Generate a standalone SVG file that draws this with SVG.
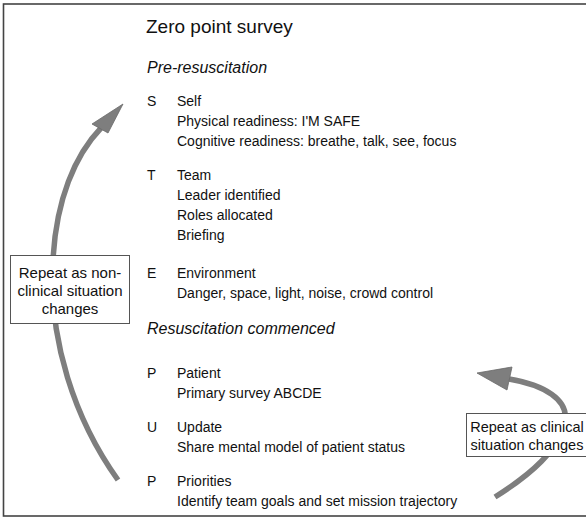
<svg xmlns="http://www.w3.org/2000/svg" width="586" height="520" viewBox="0 0 586 520">
<style>
.t{font-family:"Liberation Sans",Arial,sans-serif;font-size:14px;fill:#111}
.h{font-family:"Liberation Sans",Arial,sans-serif;font-size:19px;fill:#111}
.i{font-family:"Liberation Sans",Arial,sans-serif;font-size:16px;font-style:italic;fill:#111}
.b{font-family:"Liberation Sans",Arial,sans-serif;font-size:15px;fill:#111;text-anchor:middle}
.box{fill:#fff;stroke:#555;stroke-width:1}
.shaft{fill:none;stroke:#7e7e7e;stroke-width:5.5}
.head{fill:#7e7e7e;stroke:#6a6a6a;stroke-width:0.8}
</style>
<rect x="0" y="0" width="586" height="520" fill="#fff"/>
<rect x="3.5" y="4" width="600" height="512" fill="none" stroke="#444" stroke-width="1.6"/>
<g id="connectors">
<path class="shaft" d="M118,480 C75,420 48,340 53,260 C56,200 75,155 101,128"/>
<polygon class="head" points="123,104 92,124 108,133"/>
<path class="shaft" d="M495,497 C530,475 560,450 565,420 C568,400 545,385 509,379"/>
<polygon class="head" points="477,373 512,367 507,390"/>
</g>
<g id="title"><text class="h" x="146" y="33">Zero point survey</text></g>
<g id="pre"><text class="i" x="147" y="73">Pre-resuscitation</text></g>
<g id="S">
<text class="t" x="147" y="106">S</text>
<text class="t" x="177" y="106">Self</text>
<text class="t" x="177" y="126">Physical readiness: I'M SAFE</text>
<text class="t" x="177" y="146">Cognitive readiness: breathe, talk, see, focus</text>
</g>
<g id="T">
<text class="t" x="147" y="180">T</text>
<text class="t" x="177" y="180">Team</text>
<text class="t" x="177" y="200">Leader identified</text>
<text class="t" x="177" y="220">Roles allocated</text>
<text class="t" x="177" y="240">Briefing</text>
</g>
<g id="E">
<text class="t" x="147" y="278">E</text>
<text class="t" x="177" y="278">Environment</text>
<text class="t" x="177" y="298">Danger, space, light, noise, crowd control</text>
</g>
<g id="resus"><text class="i" x="147" y="334">Resuscitation commenced</text></g>
<g id="P1">
<text class="t" x="147" y="378">P</text>
<text class="t" x="177" y="378">Patient</text>
<text class="t" x="177" y="398">Primary survey ABCDE</text>
</g>
<g id="U">
<text class="t" x="147" y="432">U</text>
<text class="t" x="177" y="432">Update</text>
<text class="t" x="177" y="452">Share mental model of patient status</text>
</g>
<g id="P2">
<text class="t" x="147" y="486">P</text>
<text class="t" x="177" y="486">Priorities</text>
<text class="t" x="177" y="506">Identify team goals and set mission trajectory</text>
</g>
<g id="nonclinical">
<rect class="box" x="10.5" y="255.5" width="119" height="68"/>
<text class="b" x="70" y="278">Repeat as non-</text>
<text class="b" x="70" y="296">clinical situation</text>
<text class="b" x="70" y="314">changes</text>
</g>
<g id="clinical">
<rect class="box" x="466.5" y="413.5" width="130" height="43"/>
<text class="b" x="527" y="432" style="font-size:14.5px">Repeat as clinical</text>
<text class="b" x="527" y="450" style="font-size:14.5px">situation changes</text>
</g>
</svg>
